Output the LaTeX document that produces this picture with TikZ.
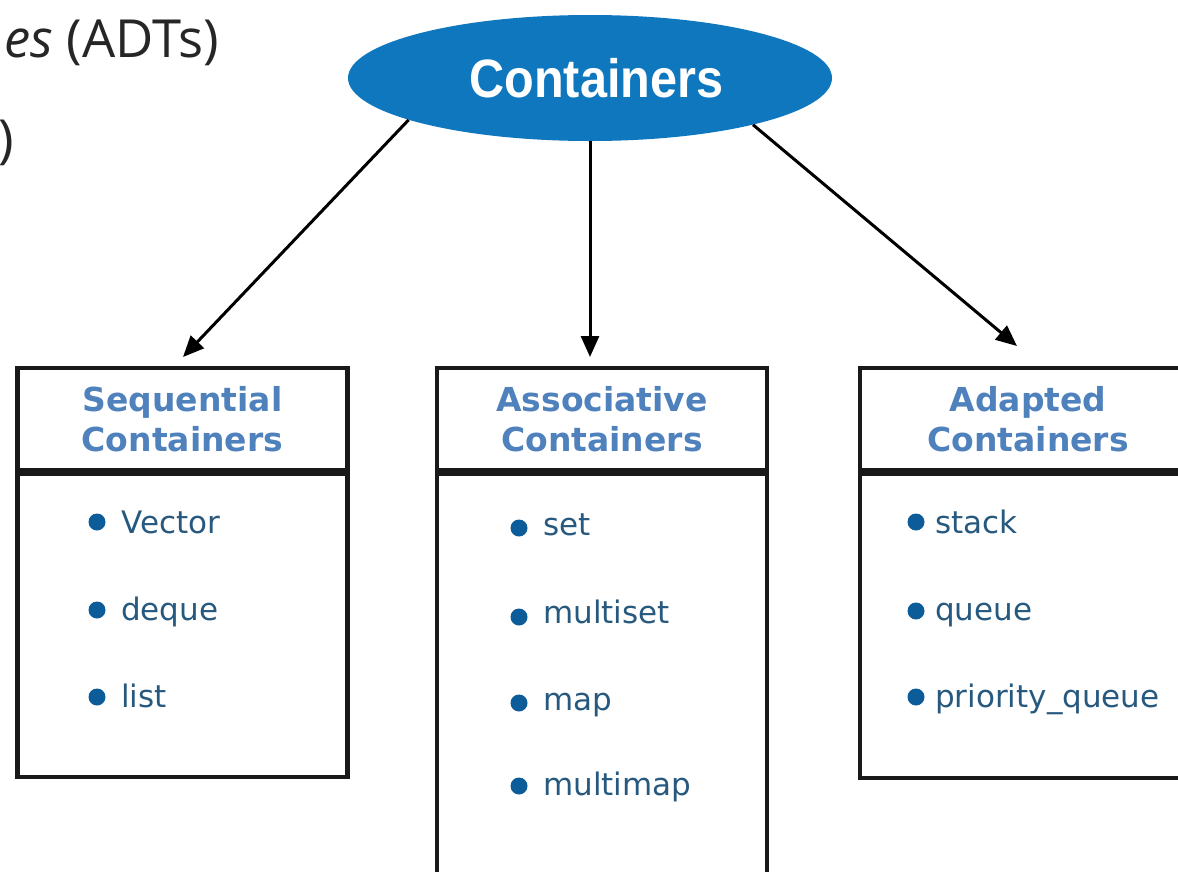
\documentclass[tikz,border=0pt]{standalone}
\usepackage{fontspec}
\setmainfont{DejaVu Sans}
\newfontfamily\titlefont{Liberation Sans}
\newfontfamily\topfont{Open Sans}
\usetikzlibrary{shapes.geometric,arrows.meta}
\definecolor{ellblue}{HTML}{0F77BE}
\definecolor{hdrblue}{HTML}{4F81BD}
\definecolor{itemcol}{HTML}{27597F}
\definecolor{bulcol}{HTML}{0B5C99}
\begin{document}
\begin{tikzpicture}[x=1pt,y=-1pt,
  rootnode/.style={ellipse, fill=ellblue, draw=none, minimum width=484pt, minimum height=126pt, inner sep=0pt,
    text=white, font=\titlefont\bfseries\fontsize{54}{54}\selectfont},
  hdrbox/.style={rectangle, draw=black!90, line width=4.2pt, align=center, inner sep=0pt,
    minimum height=102pt, text=hdrblue, font=\bfseries\fontsize{33}{40}\selectfont},
  bodybox/.style={rectangle, draw=black!90, line width=4.2pt, inner sep=0pt, anchor=north},
  itemtext/.style={anchor=base west, inner sep=0pt, text=itemcol, font=\fontsize{31}{31}\selectfont},
  bul/.style={circle, fill=bulcol, minimum size=17pt, inner sep=0pt},
  conn/.style={line width=3pt, draw=black, -{Triangle[length=21pt,width=18pt]}},
  toptext/.style={anchor=base east, inner sep=0pt, text=black!85, font=\topfont\fontsize{52.5}{52.5}\selectfont}
]
\useasboundingbox (0,0) rectangle (1178,871);
\clip (0,0) rectangle (1178,871);

% top-left fragments
\node[toptext] (adt) at (219,57) {\textit{es} (ADTs)};
\node[toptext] (par) at (14,157) {)};

% root
\node[rootnode] (root) at (590,78) {\scalebox{0.9}[1]{\hspace*{14pt}Containers}};

% boxes
\node[hdrbox, minimum width=330pt] (seqh) at (182.5,419) {Sequential\\Containers};
\node[bodybox, minimum width=330pt, minimum height=303pt] (seqb) at (seqh.south) {};

\node[hdrbox, minimum width=330pt] (assh) at (602,419) {Associative\\Containers};
\node[bodybox, minimum width=330pt, minimum height=440pt] (assb) at (assh.south) {};

\node[hdrbox, minimum width=336pt] (adah) at (1028,419) {Adapted\\Containers};
\node[bodybox, minimum width=336pt, minimum height=304pt] (adab) at (adah.south) {};

% connectors
\coordinate (t1) at (183,357);
\coordinate (t2) at (590,357);
\coordinate (t3) at (1017,346);
\draw[conn] (root.193.5) -- (t1);
\draw[conn] (root.south) -- (t2);
\draw[conn] (root.344) -- (t3);

% sequential items
\node[bul] (b11) at (97,522) {};
\node[itemtext] (i11) at (121,533) {Vector};
\node[bul] (b12) at (97,610) {};
\node[itemtext] (i12) at (121,620) {deque};
\node[bul] (b13) at (97,697) {};
\node[itemtext] (i13) at (121,707) {list};

% associative items
\node[bul] (b21) at (519,528) {};
\node[itemtext] (i21) at (543,535) {set};
\node[bul] (b22) at (519,617) {};
\node[itemtext] (i22) at (543,623) {multiset};
\node[bul] (b23) at (519,703) {};
\node[itemtext] (i23) at (543,710) {map};
\node[bul] (b24) at (519,786) {};
\node[itemtext] (i24) at (543,795) {multimap};

% adapted items
\node[bul] (b31) at (916,522) {};
\node[itemtext] (i31) at (935,533) {stack};
\node[bul] (b32) at (916,611) {};
\node[itemtext] (i32) at (935,620) {queue};
\node[bul] (b33) at (916,697) {};
\node[itemtext] (i33) at (935,707) {priority\_queue};
\end{tikzpicture}
\end{document}
